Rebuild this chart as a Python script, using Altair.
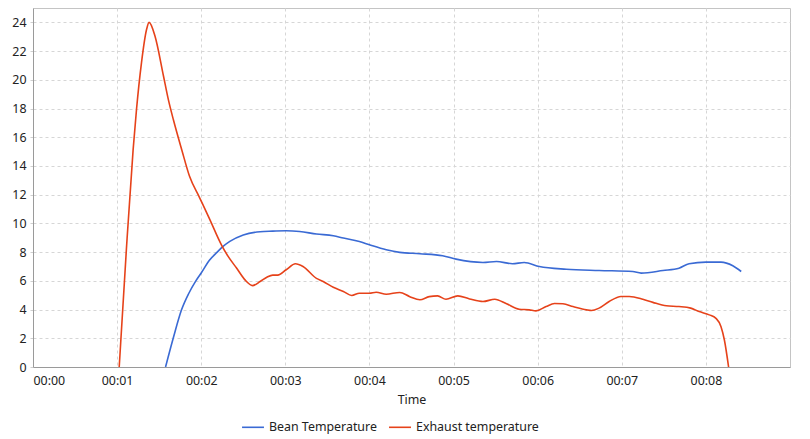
import altair as alt
import pandas as pd

bean_t = [1.576, 1.667, 1.766, 1.85, 1.936, 2.0, 2.10, 2.19, 2.26, 2.34, 2.50, 2.70, 2.85, 3.01, 3.17,
          3.37, 3.57, 3.69, 3.88, 4.0, 4.20, 4.36, 4.60, 4.87, 5.03, 5.35, 5.51, 5.70, 5.84,
          6.02, 6.34, 6.73, 7.13, 7.23, 7.49, 7.68, 7.80, 8.00, 8.18, 8.32, 8.42]
bean_v = [0, 2.0, 3.98, 5.1, 6.0, 6.55, 7.45, 8.0, 8.4, 8.75, 9.2, 9.42, 9.46, 9.49, 9.44,
          9.26, 9.14, 8.98, 8.74, 8.51, 8.16, 7.98, 7.89, 7.75, 7.51, 7.28, 7.35, 7.19, 7.28,
          7.0, 6.81, 6.72, 6.65, 6.54, 6.72, 6.88, 7.19, 7.30, 7.30, 7.05, 6.65]

exh_t = [1.025, 1.11, 1.19, 1.23, 1.29, 1.35, 1.38, 1.45, 1.55, 1.61, 1.67, 1.77,
         1.86, 1.98, 2.10, 2.24, 2.32, 2.42, 2.52, 2.61, 2.70, 2.78, 2.85, 2.91, 3.01, 3.12,
         3.21, 3.37, 3.45, 3.57, 3.69, 3.79, 3.88, 4.0, 4.08, 4.20, 4.36, 4.48, 4.60, 4.71,
         4.81, 4.91, 5.05, 5.19, 5.35, 5.49, 5.63, 5.78, 5.90, 5.98, 6.10, 6.20, 6.30, 6.42,
         6.58, 6.64, 6.73, 6.85, 6.99, 7.09, 7.25, 7.37, 7.53, 7.68, 7.82, 7.92, 8.04, 8.12,
         8.18, 8.22, 8.27]
exh_v = [0, 8.16, 15.1, 17.9, 21.2, 23.5, 24.0, 23.05, 20.3, 18.6, 17.2, 15.1,
         13.3, 11.8, 10.3, 8.51, 7.7, 6.89, 6.07, 5.67, 5.95, 6.25, 6.4, 6.4, 6.77, 7.19,
         7.0, 6.17, 5.96, 5.55, 5.26, 4.98, 5.14, 5.14, 5.21, 5.07, 5.19, 4.9, 4.68, 4.9,
         4.95, 4.72, 4.95, 4.74, 4.56, 4.72, 4.40, 4.02, 3.98, 3.91, 4.21, 4.42, 4.40, 4.21,
         3.98, 3.93, 4.1, 4.56, 4.91, 4.91, 4.72, 4.5, 4.26, 4.21, 4.1, 3.86, 3.63, 3.39,
         2.81, 1.88, 0]

series_names = ["Bean Temperature", "Exhaust temperature"]
series_colors = ["#3a6ad4", "#e6421a"]
x_ticks = [0, 1, 2, 3, 4, 5, 6, 7, 8]

df = pd.concat([
    pd.DataFrame({"t": bean_t, "v": bean_v, "s": series_names[0]}),
    pd.DataFrame({"t": exh_t, "v": exh_v, "s": series_names[1]}),
])

FONT = "Noto Sans"
FS = 12.4

chart = alt.Chart(df).mark_line(strokeWidth=1.6, interpolate="monotone", clip=True).encode(
    x=alt.X("t:Q", title="Time",
            scale=alt.Scale(domain=[0, 9], nice=False, zero=False),
            axis=alt.Axis(values=x_ticks, labelExpr="'00:0' + datum.value", ticks=False,
                          grid=True, gridDash=[3, 3], gridColor="#d6d6d6",
                          domainColor="#9a9a9a", labelColor="#222", labelFontSize=FS,
                          labelFont=FONT, titleFont=FONT, titleFontSize=FS,
                          titleFontWeight="normal", titleColor="#222", labelPadding=7,
                          titlePadding=7)),
    y=alt.Y("v:Q", title=None,
            scale=alt.Scale(domain=[0, 25], nice=False),
            axis=alt.Axis(values=list(range(0, 25, 2)), tickSize=3, tickColor="#cfcfcf",
                          grid=True, gridDash=[3, 3], gridColor="#d6d6d6",
                          domainColor="#9a9a9a", labelColor="#222", labelFontSize=FS,
                          labelFont=FONT, labelPadding=4)),
    color=alt.Color("s:N", title=None,
                    scale=alt.Scale(domain=series_names, range=series_colors),
                    legend=alt.Legend(orient="none", direction="horizontal",
                                      legendX=208, legendY=407,
                                      symbolType="stroke", symbolStrokeWidth=1.6,
                                      symbolSize=480, labelFont=FONT, labelFontSize=FS,
                                      labelColor="#222", columnPadding=8)),
).properties(
    width=757, height=359,
    autosize=alt.AutoSizeParams(type="none"),
    padding={"left": 25, "top": 0, "right": 12, "bottom": 70},
).configure_view(stroke="#c4c4c4")

chart.save("out.html", embed_options={"renderer": "svg", "actions": False})
